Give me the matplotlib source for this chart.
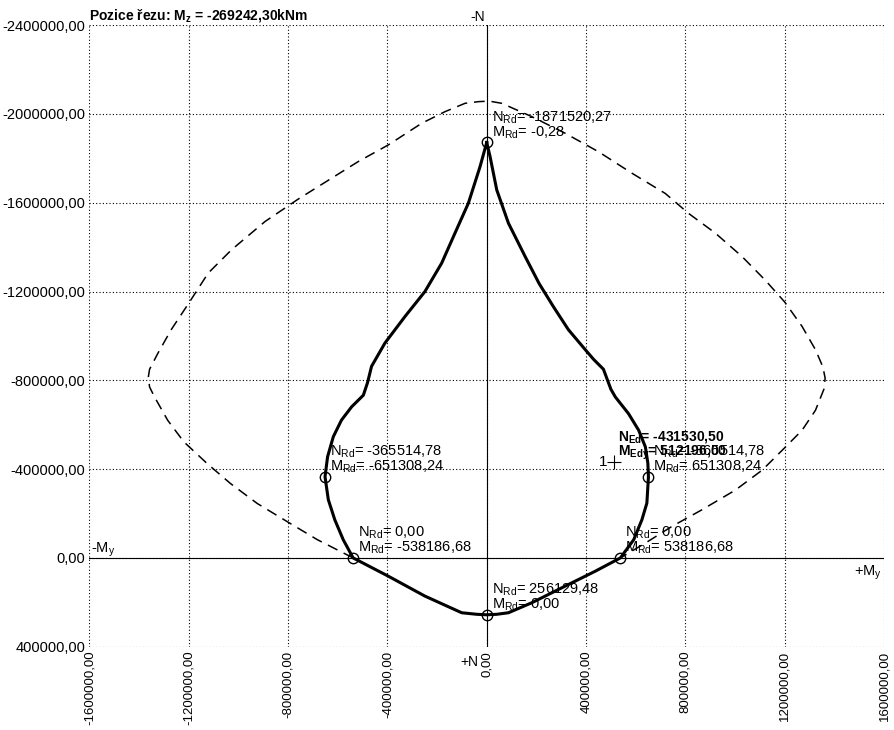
import matplotlib
matplotlib.use("Agg")
import matplotlib.pyplot as plt

plt.rcParams['font.family'] = ['Liberation Sans', 'DejaVu Sans']
plt.rcParams['mathtext.fontset'] = 'custom'
plt.rcParams['mathtext.rm'] = 'Liberation Sans'
plt.rcParams['mathtext.bf'] = 'Liberation Sans:bold'

# interaction diagram (M_y, N)
solid_m = [0, -26900, -74000, -128000, -181500, -249000, -329000, -410000, -464000,
           -480000, -497000, -544000, -585000, -618000, -641000, -651308, -638000,
           -612000, -578000, -538187, -397000, -249000, -101000, -40000, 0,
           40000, 87400, 181500, 316000, 437000, 538187, 592000, 625000, 645000, 651308,
           649000, 639000, 612000, 571000, 518000, 500000, 470000, 430000, 397000,
           329000, 269000, 211000, 154600, 87400, 40300, 13400, 0]
solid_n = [-1871520, -1763000, -1598000, -1463000, -1328000, -1200000, -1088000, -968000, -863000,
           -790000, -733000, -681000, -621000, -546000, -456000, -365515, -262000,
           -172000, -82000, 0, 82000, 172000, 247000, 254000, 256129,
           254000, 247000, 202000, 127000, 60000, 0, -82000, -172000, -247000, -365515,
           -426000, -500000, -575000, -650000, -725000, -760000, -850000, -895000, -938000,
           -1028000, -1131000, -1236000, -1358000, -1508000, -1658000, -1808000, -1871520]

dash_m = [-538187, -682000, -803000, -924000, -1032000, -1126000, -1220000, -1285000, -1338000,
          -1358000, -1363000, -1358000, -1324000, -1271000, -1200000, -1122000, -1028000, -893000,
          -760000, -625000, -517600, -396600, -262000, -168000, -87400, -33600, 10000,
          60500, 181500, 316000, 450000, 585000, 719000, 813000, 921000, 1028000,
          1122000, 1200000, 1270000, 1324000, 1354000, 1363000, 1358000, 1324000, 1270000,
          1190000, 1110000, 1002000, 867000, 746000, 639000, 538187]
dash_n = [0, -82000, -163000, -245000, -335000, -425000, -523000, -620000, -725000,
          -770000, -815000, -850000, -923000, -1028000, -1148000, -1283000, -1388000, -1515500,
          -1616000, -1710500, -1785500, -1860500, -1958000, -2010500, -2048000, -2055500, -2058000,
          -2048000, -1988000, -1913000, -1830000, -1733000, -1642000, -1552000, -1463000, -1358000,
          -1251000, -1153000, -1043000, -938000, -860000, -810000, -760000, -665000, -575000,
          -485000, -396000, -306000, -217000, -142000, -67000, 0]

# marked points on the diagram
pts_m = [0, -651308.24, 651308.24, -538186.68, 538186.68, 0]
pts_n = [-1871520.27, -365514.78, -365514.78, 0, 0, 256129.48]
pts_nlab = ['-1871520,27', '-365514,78', '-365514,78', '0,00', '0,00', '256129,48']
pts_mlab = ['-0,28', '-651308,24', '651308,24', '-538186,68', '538186,68', '0,00']

ned = -431530.50
medy = 512196.00

xticks = [-1600000, -1200000, -800000, -400000, 0, 400000, 800000, 1200000, 1600000]
yticks = [-2400000, -2000000, -1600000, -1200000, -800000, -400000, 0, 400000]


def fmt(v):
    return "{:.2f}".format(v).replace('.', ',')


fig = plt.figure(figsize=(8.94, 7.3), dpi=100)
ax = fig.add_axes([0.1001, 0.1141, 0.8887, 0.8514])

ax.set_xlim(-1600000, 1600000)
ax.set_ylim(400000, -2400000)
ax.set_xticks(xticks)
ax.set_yticks(yticks)
ax.set_xticklabels([fmt(v) for v in xticks], rotation=90, fontsize=9.5)
ax.set_yticklabels([fmt(v) for v in yticks], fontsize=10.5)
ax.tick_params(length=0, pad=3)
for s in ax.spines.values():
    s.set_visible(False)
ax.grid(True, color='black', linestyle=(0, (1, 2)), linewidth=0.8)
ax.set_axisbelow(True)

ax.axhline(0, color='black', lw=0.8)
ax.axvline(0, color='black', lw=0.8)

ax.plot(dash_m, dash_n, color='black', lw=1.1, ls=(0, (7, 4.5)))
ax.plot(solid_m, solid_n, color='black', lw=2.2, solid_joinstyle='round')
ax.plot(pts_m, pts_n, 'o', ms=7.5, mfc='none', mec='black', mew=1.0)

for m, n, nl, ml in zip(pts_m, pts_n, pts_nlab, pts_mlab):
    ax.annotate(r"$\mathregular{N_{Rd}}$= " + nl, (m, n), xytext=(5, 21),
                textcoords='offset pixels', fontsize=10.5, va='baseline', ha='left')
    ax.annotate(r"$\mathregular{M_{Rd}}$= " + ml, (m, n), xytext=(5, 6),
                textcoords='offset pixels', fontsize=10.5, va='baseline', ha='left')

# design load
ax.plot([medy], [ned], '+', ms=10, color='black', mew=0.8)
ax.annotate("1", (medy, ned), xytext=(-7, 0), textcoords='offset pixels',
            fontsize=11, ha='right', va='center')
ax.annotate(r"$\mathregular{N_{Ed}}$= " + fmt(ned), (medy, ned), xytext=(4, 22),
            textcoords='offset pixels', fontsize=10, fontweight='bold', va='baseline', ha='left')
ax.annotate(r"$\mathregular{M_{Edy}}$= " + fmt(medy), (medy, ned), xytext=(4, 7),
            textcoords='offset pixels', fontsize=10, fontweight='bold', va='baseline', ha='left')

# axis captions
ax.annotate("-N", (0, -2400000), xytext=(-2, 4), textcoords='offset pixels',
            fontsize=10, ha='right', va='baseline', annotation_clip=False)
ax.annotate("+N", (0, 400000), xytext=(-8, -8), textcoords='offset pixels',
            fontsize=10, ha='right', va='top', annotation_clip=False)
ax.annotate(r"-$\mathregular{M_y}$", (-1600000, 0), xytext=(2, 5), textcoords='offset pixels',
            fontsize=10.5, ha='left', va='baseline', annotation_clip=False)
ax.annotate(r"+$\mathregular{M_y}$", (1600000, 0), xytext=(-2, -6), textcoords='offset pixels',
            fontsize=10.5, ha='right', va='top', annotation_clip=False)

fig.text(89 / 894, 1 - 20 / 730, r"Pozice řezu: $\mathregular{M_z}$ = -269242,30kNm",
         fontsize=10, fontweight='bold', ha='left', va='baseline')

fig.savefig("out.png", dpi=100)
